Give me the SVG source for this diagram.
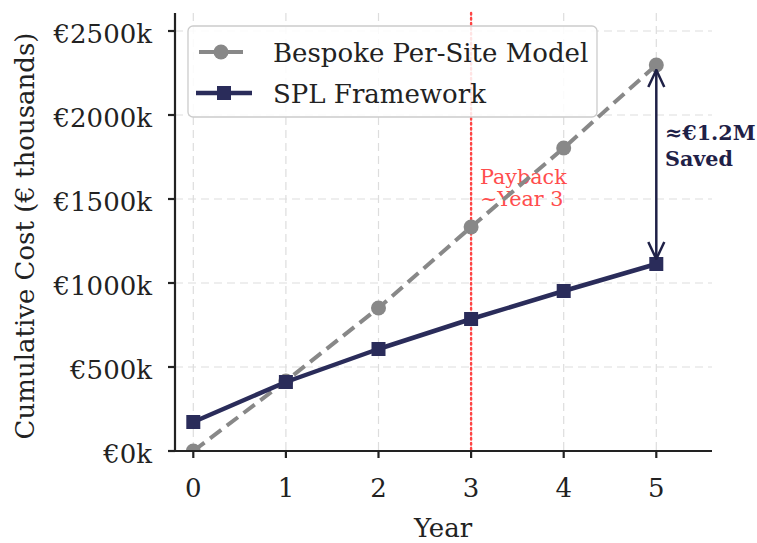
<svg xmlns="http://www.w3.org/2000/svg" width="757" height="543" viewBox="0 0 757 543">
  <style>
    text { font-family: "DejaVu Serif", "Liberation Serif", serif; fill: #222222; }
    .tick { font-size: 26px; }
    .ylab { text-anchor: end; }
    .xlab { text-anchor: middle; }
    .axis-title { font-size: 26px; }
    .grid { stroke: #dddddd; stroke-width: 1.2; stroke-dasharray: 8 5; fill: none; }
    .spine { stroke: #222222; stroke-width: 2.2; fill: none; }
    .tickmark { stroke: #222222; stroke-width: 2.2; }
    .bespoke { stroke: #888888; stroke-width: 4; stroke-dasharray: 14 7; fill: none; }
    .spl { stroke: #2a2c5a; stroke-width: 4.5; fill: none; stroke-linejoin: round; }
    .dot { fill: #888888; }
    .sq { fill: #2a2c5a; }
    .legend-text { font-size: 26px; }
    .anno { font-size: 20.7px; }
  </style>
  <defs>
    <clipPath id="plotArea">
      <rect x="175" y="13" width="537" height="438"/>
    </clipPath>
    <marker id="chevron" viewBox="0 0 20 20" refX="19" refY="10" markerWidth="20" markerHeight="20" markerUnits="userSpaceOnUse" orient="auto-start-reverse">
      <path d="M2 2 L19 10 L2 18" fill="none" stroke="#1f2147" stroke-width="2.5"/>
    </marker>
  </defs>

  <rect width="757" height="543" fill="#ffffff"/>

  <!-- grid -->
  <g id="grid">
    <line class="grid" x1="193.3" y1="13" x2="193.3" y2="451"/>
    <line class="grid" x1="285.9" y1="13" x2="285.9" y2="451"/>
    <line class="grid" x1="378.5" y1="13" x2="378.5" y2="451"/>
    <line class="grid" x1="471.1" y1="13" x2="471.1" y2="451"/>
    <line class="grid" x1="563.7" y1="13" x2="563.7" y2="451"/>
    <line class="grid" x1="656.3" y1="13" x2="656.3" y2="451"/>
    <line class="grid" x1="175" y1="31" x2="712" y2="31"/>
    <line class="grid" x1="175" y1="115" x2="712" y2="115"/>
    <line class="grid" x1="175" y1="199" x2="712" y2="199"/>
    <line class="grid" x1="175" y1="283" x2="712" y2="283"/>
    <line class="grid" x1="175" y1="367" x2="712" y2="367"/>
  </g>

  <!-- payback marker -->
  <g id="payback">
    <line x1="471.1" y1="13" x2="471.1" y2="451" stroke="#ff4444" stroke-width="2.4" stroke-dasharray="1.5 3.5" stroke-linecap="round"/>
    <text class="anno" x="480" y="184" style="fill:#ff4d4d">Payback</text>
    <text class="anno" x="480" y="206" style="fill:#ff4d4d">~Year 3</text>
  </g>

  <g id="series" clip-path="url(#plotArea)">
    <g id="bespoke">
      <polyline class="bespoke" points="193.3,451 285.9,381 378.5,308 471.1,227 563.7,148 656.3,65"/>
      <circle class="dot" cx="193.3" cy="451" r="7.5"/>
      <circle class="dot" cx="285.9" cy="381" r="7.5"/>
      <circle class="dot" cx="378.5" cy="308" r="7.5"/>
      <circle class="dot" cx="471.1" cy="227" r="7.5"/>
      <circle class="dot" cx="563.7" cy="148" r="7.5"/>
      <circle class="dot" cx="656.3" cy="65" r="7.5"/>
    </g>
    <g id="spl">
      <polyline class="spl" points="193.3,422 285.9,382 378.5,349 471.1,319 563.7,291 656.3,264"/>
      <rect class="sq" x="186.3" y="415" width="14" height="14"/>
      <rect class="sq" x="278.9" y="375" width="14" height="14"/>
      <rect class="sq" x="371.5" y="342" width="14" height="14"/>
      <rect class="sq" x="464.1" y="312" width="14" height="14"/>
      <rect class="sq" x="556.7" y="284" width="14" height="14"/>
      <rect class="sq" x="649.3" y="257" width="14" height="14"/>
    </g>
  </g>

  <!-- savings annotation -->
  <g id="connectors">
    <line x1="656.3" y1="70" x2="656.3" y2="259" stroke="#1f2147" stroke-width="2.5" marker-start="url(#chevron)" marker-end="url(#chevron)"/>
  </g>
  <g id="savings">
    <text class="anno" x="665" y="140" font-weight="bold" style="fill:#1f2147">≈€1.2M</text>
    <text class="anno" x="665" y="166" font-weight="bold" style="fill:#1f2147">Saved</text>
  </g>

  <!-- legend -->
  <g id="legend">
    <rect x="188" y="26" width="409" height="91" rx="5" fill="#ffffff" fill-opacity="0.85" stroke="#cccccc" stroke-width="1.3"/>
    <line x1="199" y1="52" x2="243" y2="52" stroke="#888888" stroke-width="4"/>
    <circle class="dot" cx="221" cy="52" r="7.5"/>
    <text class="legend-text" x="273" y="62">Bespoke Per-Site Model</text>
    <line x1="196" y1="93" x2="252" y2="93" stroke="#2a2c5a" stroke-width="4.5"/>
    <rect class="sq" x="217" y="86" width="14" height="14"/>
    <text class="legend-text" x="273" y="103">SPL Framework</text>
  </g>

  <!-- axes -->
  <g id="axes">
    <line class="spine" x1="175" y1="13" x2="175" y2="452"/>
    <line class="spine" x1="174" y1="451" x2="712" y2="451"/>
    <line class="tickmark" x1="168" y1="31" x2="175" y2="31"/>
    <line class="tickmark" x1="168" y1="115" x2="175" y2="115"/>
    <line class="tickmark" x1="168" y1="199" x2="175" y2="199"/>
    <line class="tickmark" x1="168" y1="283" x2="175" y2="283"/>
    <line class="tickmark" x1="168" y1="367" x2="175" y2="367"/>
    <line class="tickmark" x1="168" y1="451" x2="175" y2="451"/>
    <line class="tickmark" x1="193.3" y1="451" x2="193.3" y2="458"/>
    <line class="tickmark" x1="285.9" y1="451" x2="285.9" y2="458"/>
    <line class="tickmark" x1="378.5" y1="451" x2="378.5" y2="458"/>
    <line class="tickmark" x1="471.1" y1="451" x2="471.1" y2="458"/>
    <line class="tickmark" x1="563.7" y1="451" x2="563.7" y2="458"/>
    <line class="tickmark" x1="656.3" y1="451" x2="656.3" y2="458"/>
    <text class="tick ylab" x="152" y="43">€2500k</text>
    <text class="tick ylab" x="152" y="127">€2000k</text>
    <text class="tick ylab" x="152" y="211">€1500k</text>
    <text class="tick ylab" x="152" y="295">€1000k</text>
    <text class="tick ylab" x="152" y="379">€500k</text>
    <text class="tick ylab" x="152" y="463">€0k</text>
    <text class="tick xlab" x="193.3" y="497">0</text>
    <text class="tick xlab" x="285.9" y="497">1</text>
    <text class="tick xlab" x="378.5" y="497">2</text>
    <text class="tick xlab" x="471.1" y="497">3</text>
    <text class="tick xlab" x="563.7" y="497">4</text>
    <text class="tick xlab" x="656.3" y="497">5</text>
    <text class="axis-title" x="443" y="537" text-anchor="middle">Year</text>
    <text class="axis-title" transform="translate(34 236) rotate(-90)" text-anchor="middle">Cumulative Cost (€ thousands)</text>
  </g>
</svg>
